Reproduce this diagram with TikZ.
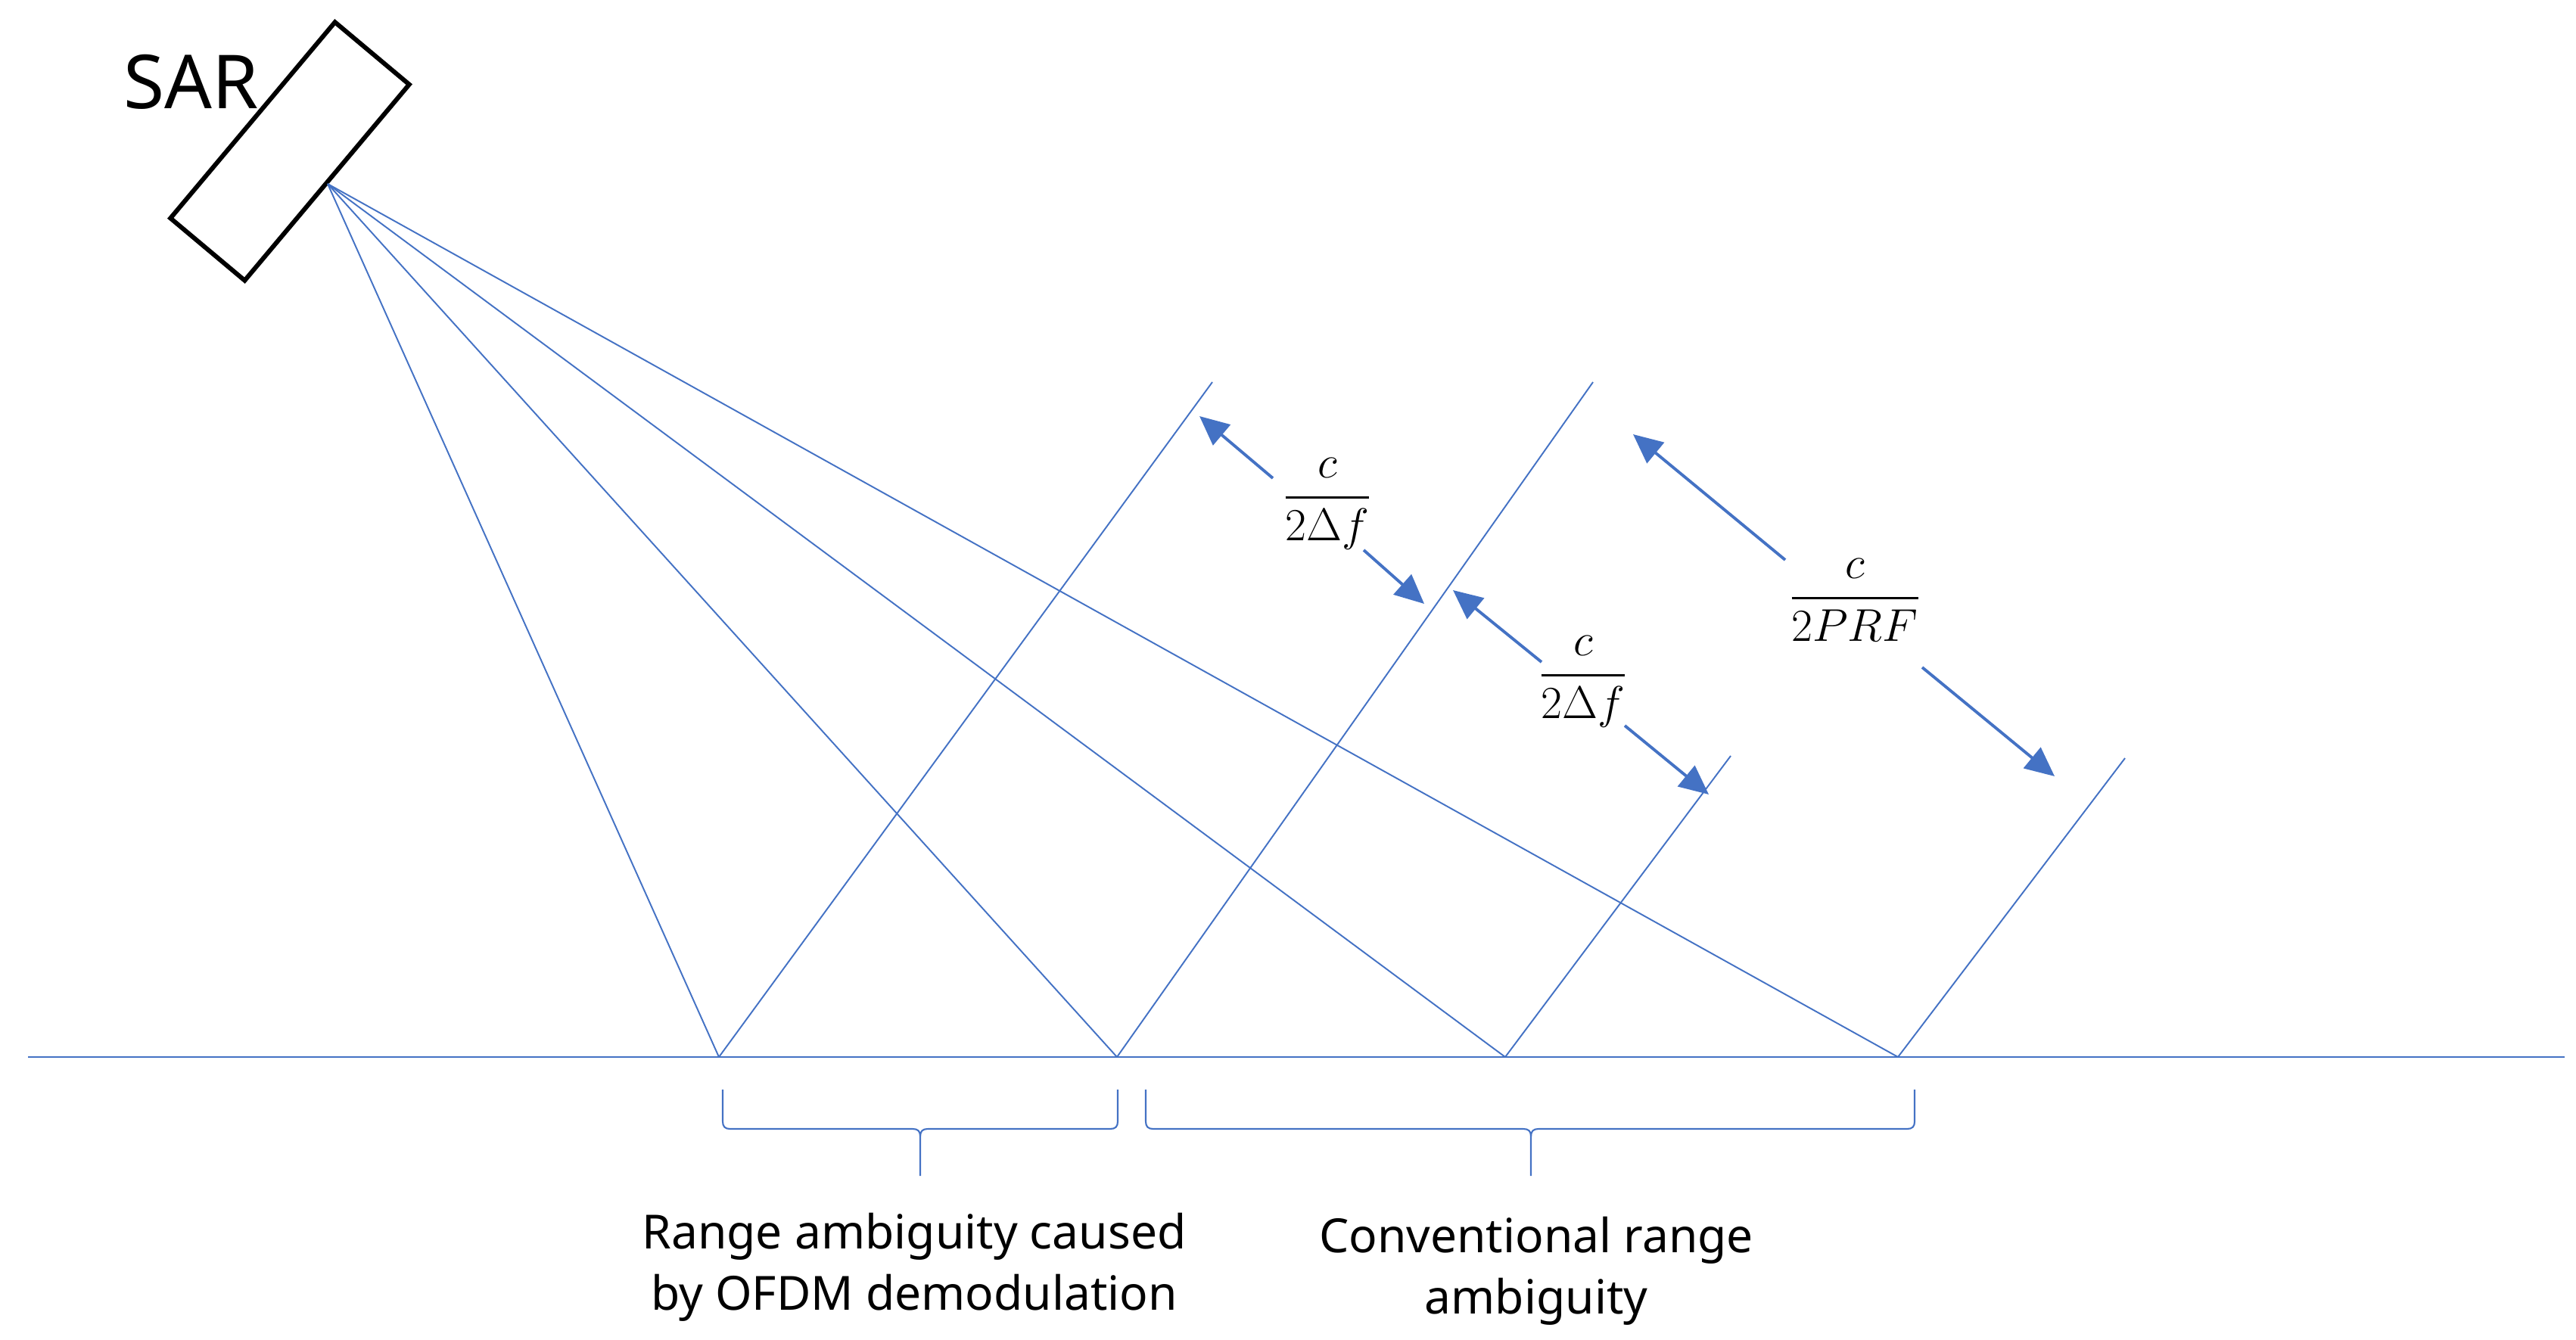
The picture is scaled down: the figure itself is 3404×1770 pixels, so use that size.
\documentclass[tikz,border=0pt]{standalone}
\usepackage{amsmath}
\usepackage{fontspec}
\setmainfont{Noto Sans}
\usetikzlibrary{arrows.meta}
\definecolor{ob}{HTML}{4472C4}
\begin{document}
\begin{tikzpicture}[x=0.01cm,y=-0.01cm,
  ray/.style={ob, line width=0.55pt},
  ground/.style={ob, line width=0.8pt},
  arr/.style={ob, line width=1.1pt, -{Triangle[length=11pt,width=10pt]}},
  brc/.style={ob, line width=0.6pt},
  lbl/.style={font=\fontsize{17.7}{23}\selectfont, align=center, anchor=base, inner sep=0pt},
  fr/.style={font=\fontsize{16}{19}\selectfont, inner sep=0pt},
  sarbox/.style={draw=black, line width=1.7pt, minimum width=3.38cm, minimum height=1.28cm, inner sep=0pt, rotate=50}]
\useasboundingbox (0,0) rectangle (3404,1770);
% SAR
\node[sarbox] (sar) at (383,200) {};
\node[font=\fontsize{28}{34}\selectfont, anchor=base west, inner sep=0pt] (sarlbl) at (163,144) {SAR};
\coordinate (apex) at (433,243);
% ground
\coordinate (gl) at (37,1397);
\coordinate (gr) at (3389,1397);
\draw[ground] (gl) -- (gr);
\coordinate (gA) at (950,1397);
\coordinate (gB) at (1476,1397);
\coordinate (gC) at (1989,1397);
\coordinate (gD) at (2508,1397);
\coordinate (tA) at (1602,505);
\coordinate (tB) at (2105,505);
\coordinate (tC) at (2287,999);
\coordinate (tD) at (2808,1002);
\draw[ray] (apex) -- (gA);
\draw[ray] (apex) -- (gB);
\draw[ray] (apex) -- (gC);
\draw[ray] (apex) -- (gD);
\draw[ray] (gA) -- (tA);
\draw[ray] (gB) -- (tB);
\draw[ray] (gC) -- (tC);
\draw[ray] (gD) -- (tD);
% fractions
\node[fr] (f1) at (1754,666) {$\genfrac{}{}{0.8pt}{0}{c}{2\Delta f}$};
\node[fr] (f2) at (2092,901) {$\genfrac{}{}{0.8pt}{0}{c}{2\Delta f}$};
\node[fr] (f3) at (2451,793) {$\genfrac{}{}{0.8pt}{0}{c}{2PRF}$};
% arrows
\coordinate (a1s) at (1682,632); \coordinate (a1e) at (1585,550);
\coordinate (a2s) at (1802,727); \coordinate (a2e) at (1882,798);
\coordinate (a3s) at (2037,875); \coordinate (a3e) at (1920,780);
\coordinate (a4s) at (2147,959); \coordinate (a4e) at (2258,1050);
\coordinate (a5s) at (2359,740); \coordinate (a5e) at (2158,574);
\coordinate (a6s) at (2540,882); \coordinate (a6e) at (2715,1026);
\draw[arr] (a1s) -- (a1e);
\draw[arr] (a2s) -- (a2e);
\draw[arr] (a3s) -- (a3e);
\draw[arr] (a4s) -- (a4e);
\draw[arr] (a5s) -- (a5e);
\draw[arr] (a6s) -- (a6e);
% braces
\draw[brc] (955,1440) -- (955,1482) .. controls (955,1489) and (958,1492) .. (965,1492) -- (1206,1492) .. controls (1213,1492) and (1216,1495) .. (1216,1502) -- (1216,1554);
\draw[brc] (1216,1502) .. controls (1216,1495) and (1219,1492) .. (1226,1492) -- (1467,1492) .. controls (1474,1492) and (1477,1489) .. (1477,1482) -- (1477,1440);
\draw[brc] (1514,1440) -- (1514,1482) .. controls (1514,1489) and (1517,1492) .. (1524,1492) -- (2013,1492) .. controls (2020,1492) and (2023,1495) .. (2023,1502) -- (2023,1554);
\draw[brc] (2023,1502) .. controls (2023,1495) and (2026,1492) .. (2033,1492) -- (2520,1492) .. controls (2527,1492) and (2530,1489) .. (2530,1482) -- (2530,1440);
% labels
\node[lbl] (l1) at (1208,1731) {Range ambiguity caused\\by OFDM demodulation};
\node[lbl] (l2) at (2030,1736) {Conventional range\\ambiguity};
\end{tikzpicture}
\end{document}
